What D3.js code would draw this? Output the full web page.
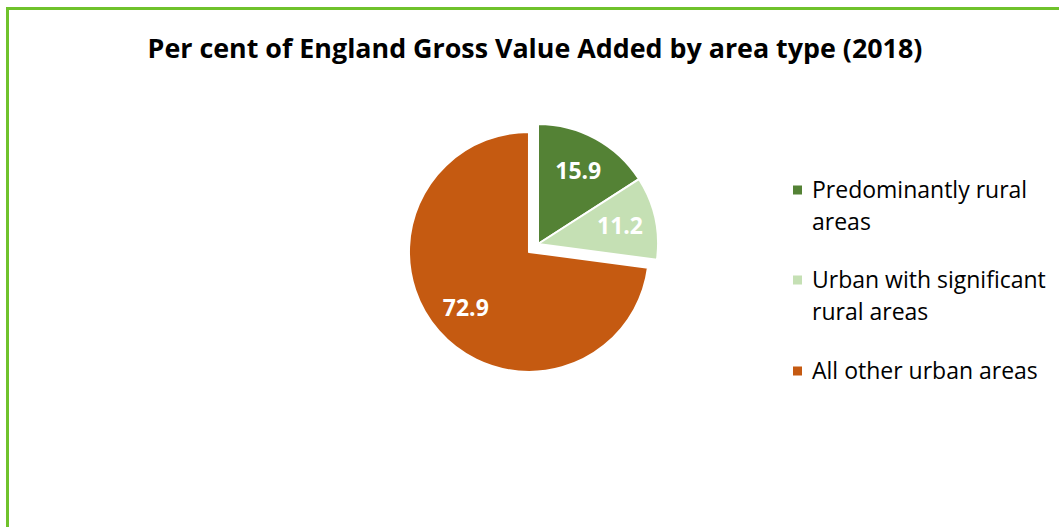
<!DOCTYPE html>
<html lang="en">
<head>
<meta charset="utf-8">
<title>Per cent of England GVA by area type</title>
<script src="https://cdnjs.cloudflare.com/ajax/libs/d3/7.8.5/d3.min.js"></script>
<style>
  body { margin: 0; background: #fff; }
  svg { display: block; }
</style>
</head>
<body>
<script>
var categories = ["Predominantly rural areas", "Urban with significant rural areas", "All other urban areas"];
var legendLines = [["Predominantly rural", "areas"], ["Urban with significant", "rural areas"], ["All other urban areas"]];
var values = [15.9, 11.2, 72.9];
var colours = ["#548235", "#c5e0b4", "#c55a11"];
var exploded = [0, 0, 12];

var w = 1059, h = 527;
var font = "'Open Sans', 'Noto Sans', sans-serif";

var svg = d3.select("body").append("svg")
  .attr("width", w)
  .attr("height", h);

svg.append("rect")
  .attr("x", 7.5).attr("y", 8.5)
  .attr("width", w + 20).attr("height", h + 20)
  .attr("fill", "#fff")
  .attr("stroke", "#6fc22b")
  .attr("stroke-width", 3);

// fit a text to the width it has in the picture
function fit(sel, base, width) {
  var tw = sel.node().getComputedTextLength();
  var fs = base * width / tw;
  sel.attr("font-size", fs);
  return fs;
}

var title = svg.append("text")
  .attr("x", 535).attr("y", 58)
  .attr("text-anchor", "middle")
  .attr("font-family", font)
  .attr("font-weight", "bold")
  .attr("font-size", 24)
  .attr("fill", "#000")
  .text("Per cent of England Gross Value Added by area type (2018)");
fit(title, 24, 775);

var cx = 538, cy = 244, r = 120;

var pie = d3.pie().sort(null).value(function(d) { return d; });
var arcs = pie(values);
var arc = d3.arc().innerRadius(0).outerRadius(r);
var labelArc = d3.arc().innerRadius(r * 0.7).outerRadius(r * 0.7);

function shift(d, i) {
  var a = (d.startAngle + d.endAngle) / 2;
  return [Math.sin(a) * exploded[i], -Math.cos(a) * exploded[i]];
}

var g = svg.append("g").attr("transform", "translate(" + cx + "," + cy + ")");

g.selectAll("path")
  .data(arcs)
  .enter()
  .append("path")
  .attr("d", arc)
  .attr("transform", function(d, i) {
    var s = shift(d, i);
    return "translate(" + s[0] + "," + s[1] + ")";
  })
  .attr("fill", function(d, i) { return colours[i]; })
  .attr("stroke", "#fff")
  .attr("stroke-width", 2)
  .attr("stroke-linejoin", "round");

var labels = g.selectAll("text")
  .data(arcs)
  .enter()
  .append("text")
  .attr("transform", function(d, i) {
    var s = shift(d, i);
    var c = labelArc.centroid(d);
    return "translate(" + (c[0] + s[0]) + "," + (c[1] + s[1]) + ")";
  })
  .attr("text-anchor", "middle")
  .attr("dy", "0.36em")
  .attr("font-family", font)
  .attr("font-weight", "bold")
  .attr("font-size", 19)
  .attr("fill", "#fff")
  .text(function(d) { return d.data.toFixed(1); });
var lfs = 19 * 46 / labels.nodes()[0].getComputedTextLength();
labels.attr("font-size", lfs);

// legend
var legendY = [190, 280, 371];
var lg = svg.append("g");
var probe = lg.append("text")
  .attr("font-family", font)
  .attr("font-size", 19)
  .text(legendLines[2][0]);
var legFs = 19 * 226 / probe.node().getComputedTextLength();
probe.remove();

legendLines.forEach(function(lines, i) {
  lg.append("rect")
    .attr("x", 793).attr("y", legendY[i] - 4.5)
    .attr("width", 9).attr("height", 9)
    .attr("fill", colours[i]);
  var t = lg.append("text")
    .attr("x", 812).attr("y", legendY[i])
    .attr("font-family", font)
    .attr("font-size", legFs)
    .attr("fill", "#000");
  lines.forEach(function(line, j) {
    t.append("tspan")
      .attr("x", 812)
      .attr("dy", j === 0 ? "0.35em" : "32")
      .text(line);
  });
});
</script>
</body>
</html>
